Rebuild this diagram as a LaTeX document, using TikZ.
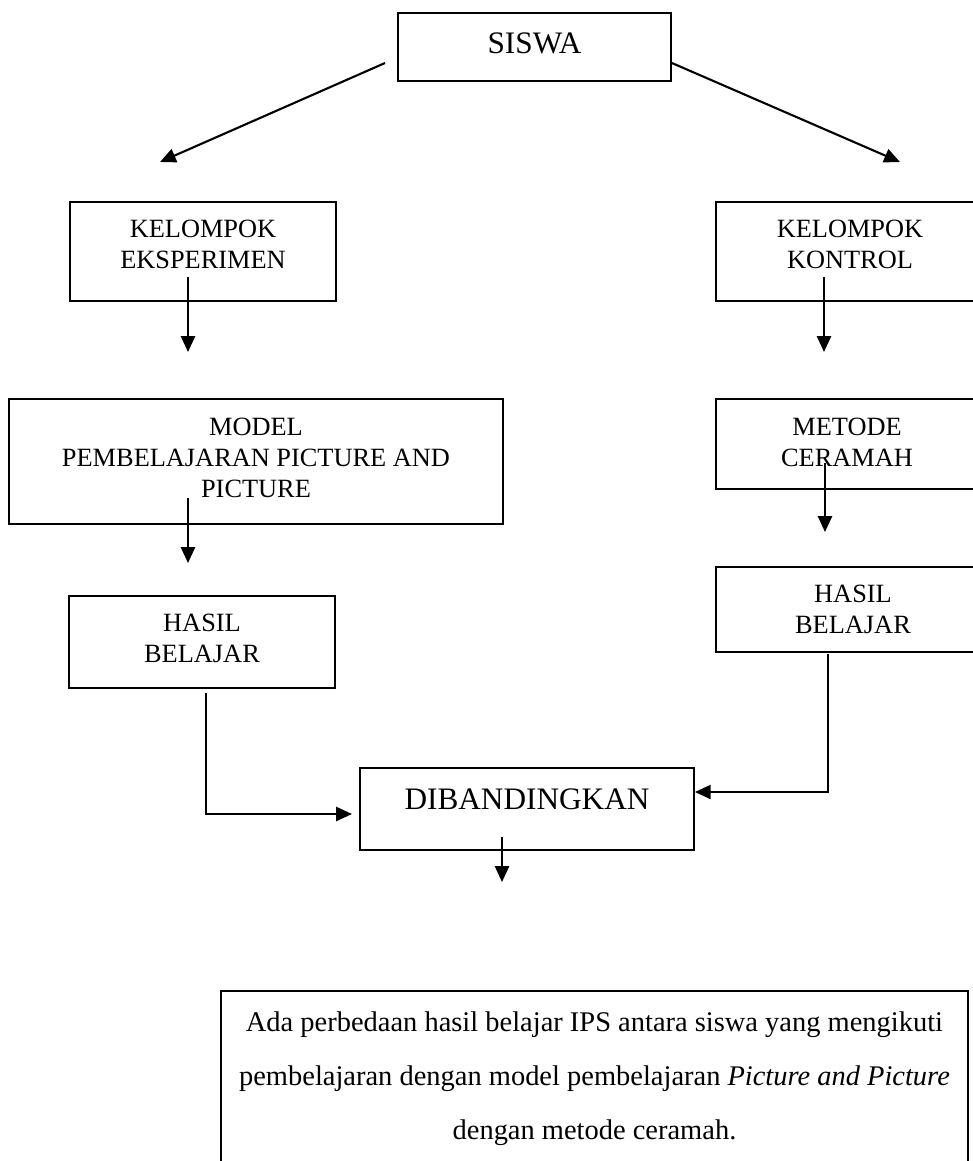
\documentclass[tikz,border=0pt]{standalone}
\usepackage{fontspec}
\setmainfont{Liberation Serif}
\usetikzlibrary{arrows.meta}
\tikzset{
	box/.style={draw, line width=1.1pt, align=center, inner sep=0pt, font=\fontsize{15}{17.6}\selectfont},
	bigtext/.style={font=\fontsize{17.8}{21}\selectfont},
	arr/.style={line width=1.2pt, -{Triangle[length=9pt,width=8pt]}},
	ln/.style={line width=1.2pt}
}

\begin{document}
\begin{tikzpicture}[x=0.02cm, y=-0.02cm]
		%%%%% START %%%%%
		\useasboundingbox (0,0) rectangle (973,1161);
		
		\node[box, bigtext, minimum width=5.46cm, minimum height=1.36cm, text depth=0.16cm] (siswa) at (534.5,47) {SISWA};
		
		\node[box, minimum width=5.32cm, minimum height=1.98cm, text depth=0.28cm] (eks) at (203,251.5) {KELOMPOK\\EKSPERIMEN};
		\node[box, minimum width=5.36cm, minimum height=1.98cm, text depth=0.28cm] (kon) at (850,251.5) {KELOMPOK\\KONTROL};
		
		\node[box, minimum width=9.88cm, minimum height=2.5cm, text depth=0.16cm] (model) at (256,461.5) {MODEL\\PEMBELAJARAN PICTURE AND\\PICTURE};
		\node[box, minimum width=5.24cm, minimum height=1.8cm, text depth=0.08cm] (metode) at (847,444) {METODE\\CERAMAH};
		
		\node[box, minimum width=5.32cm, minimum height=1.84cm, text depth=0.14cm] (hasilL) at (202,642) {HASIL\\BELAJAR};
		\node[box, minimum width=5.48cm, minimum height=1.7cm] (hasilR) at (853,609.5) {HASIL\\BELAJAR};
		
		\node[box, bigtext, minimum width=6.68cm, minimum height=1.64cm, text depth=0.4cm] (dib) at (527,809) {DIBANDINGKAN};
		
		\node[box, minimum width=14.94cm, minimum height=3.5cm, font=\fontsize{16.2}{30.7}\selectfont] (hasil) at (594.5,1078.5)
			{Ada perbedaan hasil belajar IPS antara siswa yang mengikuti\\pembelajaran dengan model pembelajaran \textit{Picture and Picture}\\dengan metode ceramah.};
		
		% ujung panah
		\coordinate (sl) at (385,63);
		\coordinate (tl) at (160,162);
		\coordinate (tr) at (900,162);
		\coordinate (e1) at (188,277);
		\coordinate (e2) at (188,352);
		\coordinate (k1) at (824,277);
		\coordinate (k2) at (824,352);
		\coordinate (m1) at (188,498);
		\coordinate (m2) at (188,563);
		\coordinate (c1) at (825,463);
		\coordinate (c2) at (825,532);
		\coordinate (h1) at (206,693);
		\coordinate (h2) at (352,814);
		\coordinate (r1) at (828,654);
		\coordinate (d1) at (502,837);
		\coordinate (d2) at (502,882);
		
		\draw[arr] (sl) -- (tl);
		\draw[arr] ([yshift=-0.32cm]siswa.east) -- (tr);
		\draw[arr] (e1) -- (e2);
		\draw[arr] (k1) -- (k2);
		\draw[arr] (m1) -- (m2);
		\draw[arr] (c1) -- (c2);
		\draw[arr] (h1) |- (h2);
		\draw[arr] (r1) |- ([yshift=0.34cm]dib.east);
		\draw[arr] (d1) -- (d2);
		
		%%%%% END %%%%%
\end{tikzpicture}
\end{document}
